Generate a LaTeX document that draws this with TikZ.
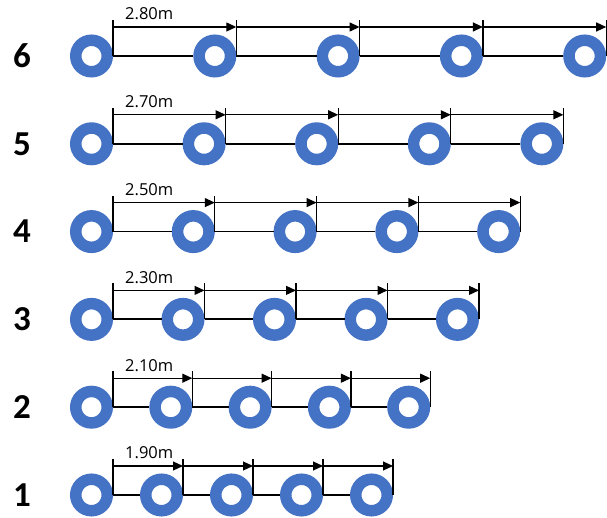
\documentclass[tikz,border=0pt]{standalone}
\usepackage{fontspec}
\setmainfont{Open Sans}
\newfontfamily\rowfont{Carlito}
\usetikzlibrary{arrows.meta}

\definecolor{ringblue}{HTML}{4472C4}
\tikzset{
	ring/.style = {circle, draw = ringblue, line width = 11.5pt, fill = white, inner sep = 0pt, minimum size = 31.5pt},
	rowline/.style = {line width = 1.8pt},
	tickline/.style = {line width = 1.2pt},
	dimarrow/.style = {line width = 1.2pt, -{Triangle[length = 10pt, width = 9pt]}},
	dimlabel/.style = {anchor = base west, inner sep = 0pt, font = \fontsize{16.5}{18}\selectfont},
	rowlabel/.style = {inner sep = 0pt, font = \rowfont\bfseries\fontsize{35}{40}\selectfont}
}

\begin{document}
\begin{tikzpicture}[x = 1pt, y = 1pt]
	\useasboundingbox (0, 0) rectangle (607, 518);
	\foreach \r/\d/\len in {1/70/1.90m, 2/79.3/2.10m, 3/91.5/2.30m, 4/101.8/2.50m, 5/112.6/2.70m, 6/123.3/2.80m}{
		\pgfmathsetmacro{\yr}{23 + (\r - 1)*87.8}
		\node[rowlabel] (n\r) at (22, \yr) {\r};
		
		% plants of the row
		\foreach \i in {1, ..., 5}{
			\node[ring] (p\r-\i) at ({91.5 + (\i - 1)*\d}, \yr) {};
			\coordinate (t\r-\i) at ([yshift = 36pt]p\r-\i.east);
			\coordinate (a\r-\i) at ([yshift = 29pt]p\r-\i.east);
			\draw[tickline] (p\r-\i.east) -- (t\r-\i);
		}
		\foreach \i/\j in {1/2, 2/3, 3/4, 4/5}{
			\draw[rowline] (p\r-\i) -- (p\r-\j);
			\draw[dimarrow] (a\r-\i) -- (a\r-\j);
		}
		\node[dimlabel] (l\r) at ([xshift = 12pt, yshift = 7pt]a\r-1) {\len};
	}
\end{tikzpicture}
\end{document}
